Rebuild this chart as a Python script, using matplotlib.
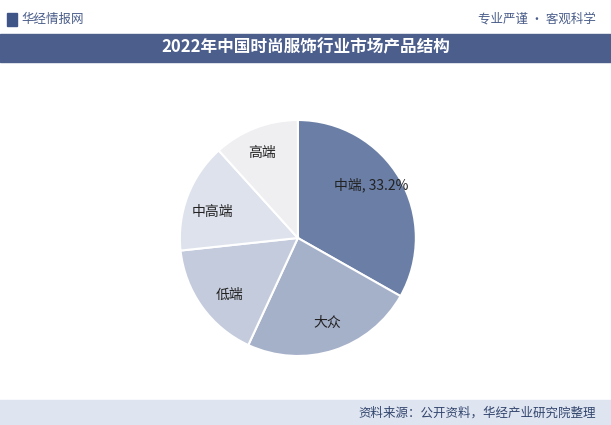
import matplotlib
matplotlib.use("Agg")
import matplotlib.pyplot as plt
from matplotlib.patches import Rectangle

plt.rcParams["font.family"] = "Noto Sans CJK SC"

labels = ["中端", "大众", "低端", "中高端", "高端"]
values = [33.2, 23.7, 16.4, 15.0, 11.7]
colors = ["#6a7ea6", "#a5b0c9", "#c4cbdc", "#dde2ec", "#efeff2"]

W, H = 611, 425
fig = plt.figure(figsize=(W/100, H/100), dpi=100)
fig.patch.set_facecolor("white")

# header
fig.text(0.035, 0.955, "华经情报网", fontsize=9, color="#4a5d8a", va="center")
fig.add_artist(Rectangle((0.012, 0.94), 0.016, 0.03, transform=fig.transFigure, color="#3f5588"))
fig.text(0.975, 0.955, "专业严谨 • 客观科学", fontsize=9, color="#4a5d8a", va="center", ha="right")
fig.add_artist(Rectangle((0.0, 0.855), 1.0, 0.065, transform=fig.transFigure, color="#4b5e8c"))
fig.text(0.5, 0.888, "2022年中国时尚服饰行业市场产品结构", fontsize=12, color="white",
         va="center", ha="center", fontweight="bold")
# footer
fig.add_artist(Rectangle((0.0, 0.0), 1.0, 0.058, transform=fig.transFigure, color="#dfe5f0"))
fig.text(0.975, 0.029, "资料来源：公开资料，华经产业研究院整理", fontsize=9, color="#33466e",
         va="center", ha="right")

ax = fig.add_axes([0.246, 0.093, 0.483, 0.694])
wedges, texts = ax.pie(values, colors=colors, startangle=90, counterclock=False,
                       wedgeprops=dict(edgecolor="white", linewidth=1.5))
ax.set_aspect("equal")
pos = {0: (0.62, 0.45), 1: (0.25, -0.72), 2: (-0.58, -0.48), 3: (-0.72, 0.22), 4: (-0.3, 0.72)}
for i, lab in enumerate(labels):
    x, y = pos[i]
    t = f"{lab}, {values[i]}%" if i == 0 else lab
    ax.text(x, y, t, fontsize=10, ha="center", va="center", color="#222222")

fig.savefig("out.png", dpi=100)
